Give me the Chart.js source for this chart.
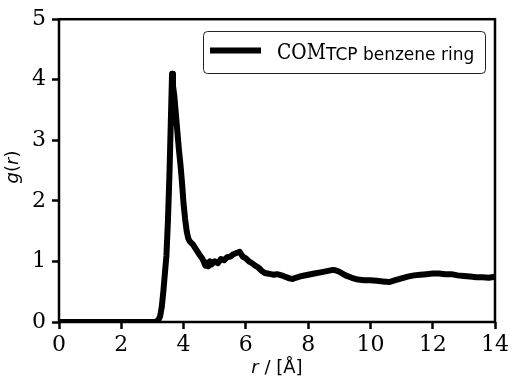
<!DOCTYPE html>
<html>
<head>
<meta charset="utf-8">
<script src="https://cdn.jsdelivr.net/npm/chart.js@4/dist/chart.umd.min.js"></script>
<style>
  html, body { margin: 0; padding: 0; background: #ffffff; }
  #wrap { width: 512px; height: 380px; position: relative; }
</style>
</head>
<body>
<div id="wrap"><canvas id="c" width="512" height="380"></canvas></div>
<script>
// ---- data ----
const seriesLabel = 'COM_TCP benzene ring';
const rValues = [
  0, 3.1, 3.2, 3.25, 3.3, 3.35, 3.4, 3.45, 3.5, 3.55, 3.6, 3.63, 3.66, 3.7, 3.75,
  3.8, 3.85, 3.9, 3.95, 4.0, 4.05, 4.1, 4.15, 4.2, 4.3, 4.4, 4.5, 4.6, 4.7, 4.75,
  4.8, 4.85, 4.9, 5.0, 5.1, 5.2, 5.3, 5.4, 5.5, 5.6, 5.7, 5.8, 5.9, 6.0, 6.1,
  6.2, 6.3, 6.4, 6.5, 6.6, 6.7, 6.8, 6.9, 7.0, 7.2, 7.4, 7.5, 7.6, 7.8, 8.0,
  8.2, 8.4, 8.6, 8.8, 8.9, 9.0, 9.2, 9.4, 9.6, 9.8, 10.0, 10.2, 10.4, 10.6, 10.8,
  11.0, 11.2, 11.4, 11.6, 11.8, 12.0, 12.2, 12.4, 12.6, 12.8, 13.0, 13.2, 13.4, 13.6, 13.8,
  14.0
];
const gValues = [
  0, 0, 0.04, 0.1, 0.25, 0.5, 0.8, 1.1, 1.7, 2.5, 3.5, 4.1, 3.9, 3.75, 3.45,
  3.15, 2.85, 2.6, 2.3, 1.95, 1.7, 1.5, 1.38, 1.33, 1.28, 1.2, 1.12, 1.05, 0.93, 0.98,
  0.92, 1.0, 0.95, 1.0, 0.97, 1.04, 1.02, 1.07, 1.08, 1.12, 1.14, 1.16, 1.08, 1.05, 1.0,
  0.97, 0.93, 0.9, 0.85, 0.81, 0.8, 0.79, 0.78, 0.79, 0.76, 0.72, 0.71, 0.73, 0.76, 0.78,
  0.8, 0.82, 0.84, 0.86, 0.85, 0.83, 0.77, 0.73, 0.7, 0.69, 0.69, 0.68, 0.67, 0.66, 0.69,
  0.72, 0.75, 0.77, 0.78, 0.79, 0.8, 0.8, 0.79, 0.79, 0.77, 0.76, 0.75, 0.74, 0.74, 0.73,
  0.75
];
const xTicks = [0, 2, 4, 6, 8, 10, 12, 14];
const yTicks = [0, 1, 2, 3, 4, 5];

const points = rValues.map((r, i) => ({ x: r, y: gValues[i] }));

const frameAndLabels = {
  id: 'frameAndLabels',
  afterDatasetsDraw(chart) {
    const { ctx, chartArea: a } = chart;
    ctx.save();
    ctx.strokeStyle = '#000';
    ctx.lineWidth = 2.5;
    ctx.strokeRect(a.left, a.top, a.right - a.left, a.bottom - a.top);
    ctx.restore();
  },
  afterDraw(chart) {
    const { ctx, chartArea: a } = chart;
    ctx.save();
    ctx.fillStyle = '#000';
    // x axis title: italic r + " / [Å]"
    const cx = (a.left + a.right) / 2;
    ctx.textBaseline = 'alphabetic';
    const p1 = 'r', p2 = ' / [Å]';
    ctx.font = 'italic 18px "DejaVu Sans"';
    const w1 = ctx.measureText(p1).width;
    ctx.font = '18px "DejaVu Sans"';
    const w2 = ctx.measureText(p2).width;
    let x0 = cx - (w1 + w2) / 2;
    ctx.font = 'italic 18px "DejaVu Sans"';
    ctx.fillText(p1, x0, 373);
    ctx.font = '18px "DejaVu Sans"';
    ctx.fillText(p2, x0 + w1, 373);

    // y axis title: g(r) rotated
    ctx.save();
    ctx.translate(18, 167);
    ctx.rotate(-Math.PI / 2);
    const parts = [['g', 'italic'], ['(', 'normal'], ['r', 'italic'], [')', 'normal']];
    let tw = 0;
    parts.forEach(p => { ctx.font = p[1] + ' 18px "DejaVu Sans"'; tw += ctx.measureText(p[0]).width; });
    let px = -tw / 2;
    parts.forEach(p => { ctx.font = p[1] + ' 18px "DejaVu Sans"'; ctx.fillText(p[0], px, 0); px += ctx.measureText(p[0]).width; });
    ctx.restore();

    // legend
    const bx = 203.5, by = 31.5, bw = 282, bh = 42;
    ctx.beginPath();
    ctx.roundRect(bx, by, bw, bh, 4);
    ctx.fillStyle = 'rgba(255,255,255,0.8)';
    ctx.fill();
    ctx.strokeStyle = '#222';
    ctx.lineWidth = 1;
    ctx.stroke();
    ctx.beginPath();
    ctx.moveTo(210, 50.5);
    ctx.lineTo(261, 50.5);
    ctx.lineWidth = 6;
    ctx.strokeStyle = '#000';
    ctx.stroke();
    ctx.fillStyle = '#000';
    const [mainTxt, subTxt] = seriesLabel.split('_');
    ctx.save();
    ctx.translate(277, 59);
    ctx.scale(0.85, 1);
    ctx.font = '22px "DejaVu Serif"';
    ctx.fillText(mainTxt, 0, 0);
    ctx.restore();
    ctx.font = '17px "DejaVu Sans"';
    ctx.fillText(subTxt, 326, 60);
    ctx.restore();
  }
};

new Chart(document.getElementById('c'), {
  type: 'line',
  data: {
    datasets: [{
      label: seriesLabel,
      data: points,
      borderColor: '#000',
      backgroundColor: '#000',
      borderWidth: 6,
      pointRadius: 0,
      tension: 0,
      fill: false,
      clip: 0,
      borderJoinStyle: 'round'
    }]
  },
  options: {
    responsive: false,
    animation: false,
    devicePixelRatio: 1,
    layout: { padding: { left: 0, right: 15, top: 19, bottom: 0 } },
    plugins: { legend: { display: false }, tooltip: { enabled: false } },
    scales: {
      x: {
        type: 'linear',
        min: 0, max: 14,
        afterBuildTicks: s => { s.ticks = xTicks.map(v => ({ value: v })); },
        afterFit: s => { s.height = 58; },
        grid: { drawOnChartArea: false, drawTicks: true, tickLength: 7, tickWidth: 2.5, tickColor: '#000' },
        border: { display: false },
        ticks: { color: '#000', padding: 3, maxRotation: 0, font: { family: '"DejaVu Serif"', size: 22 } }
      },
      y: {
        type: 'linear',
        min: 0, max: 5,
        afterBuildTicks: s => { s.ticks = yTicks.map(v => ({ value: v })); },
        afterFit: s => { s.width = 59; },
        grid: { drawOnChartArea: false, drawTicks: true, tickLength: 7, tickWidth: 2.5, tickColor: '#000' },
        border: { display: false },
        ticks: { color: '#000', padding: 6, font: { family: '"DejaVu Serif"', size: 22 } }
      }
    }
  },
  plugins: [frameAndLabels]
});
</script>
</body>
</html>
